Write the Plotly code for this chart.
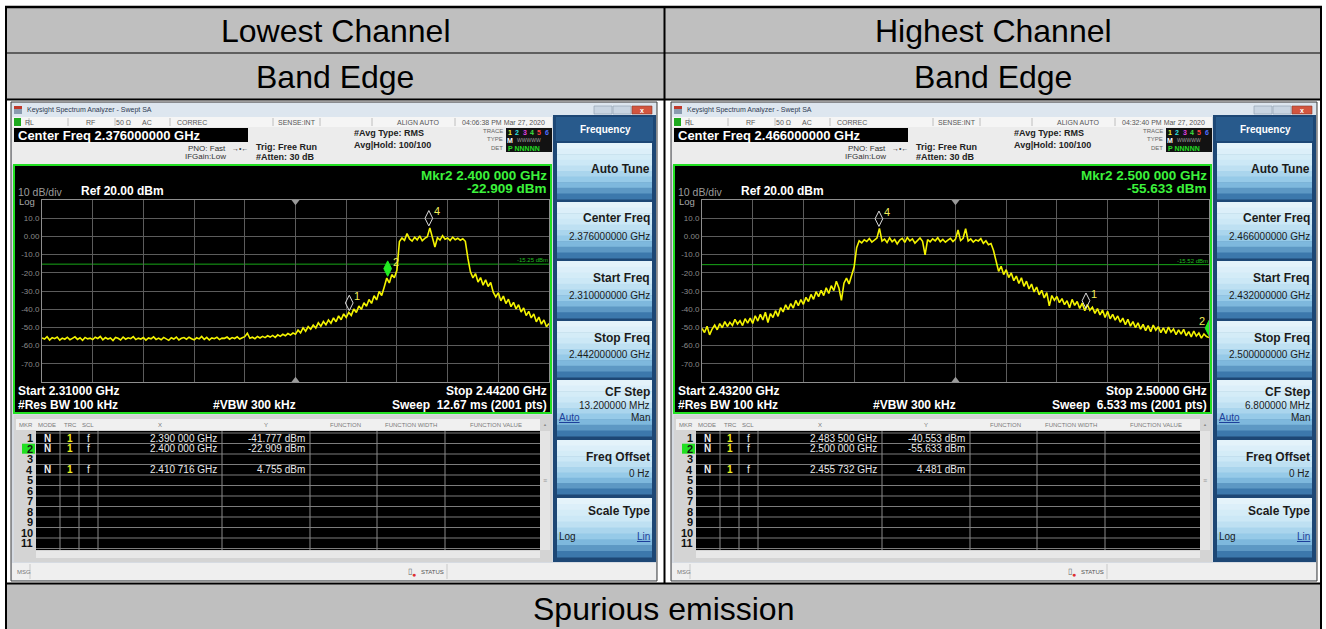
import numpy as np
import plotly.graph_objects as go

W, H = 1326, 629
FONT = "Arial, 'Liberation Sans', sans-serif"

# ---------------- sweep settings ----------------
low_start, low_stop, low_center = 2.310, 2.442, 2.376      # GHz
high_start, high_stop, high_center = 2.432, 2.500, 2.466   # GHz
ref_level_dbm = 20.0
db_per_div = 10.0
sweep_points = 2001

# ---------------- trace 1 (dBm), evenly spaced over each sweep ----------------
low_trace_dbm = [
    -55.8, -56.4, -55.1, -56.9, -55.6, -56.2, -55.3, -57.0, -55.9, -56.5, -55.4, -56.8, -56.0, -55.2, -56.6, -55.7, -57.1, -55.5, -56.3, -55.9,
    -56.7, -55.4, -56.1, -55.0, -56.8, -55.6, -56.4, -55.8, -57.2, -55.5, -56.0, -56.9, -55.3, -56.5, -55.7, -56.2, -55.1, -56.7, -55.9, -56.4,
    -55.6, -57.0, -55.8, -56.3, -55.2, -56.6, -55.9, -56.8, -55.5, -56.1, -57.1, -55.7, -56.4, -55.3, -56.9, -56.0, -55.6, -56.5, -55.4, -56.2,
    -56.8, -55.7, -56.3, -55.0, -56.6, -55.5, -56.9, -55.8, -56.2, -55.4, -56.7, -55.9, -56.0, -55.3, -56.5, -55.6, -56.1, -55.2, -56.4, -55.7,
    -55.1, -53.2, -56.0, -55.4, -56.2, -55.0, -55.8, -54.9, -55.6, -54.6, -55.3, -54.4, -55.5, -54.1, -54.9, -53.8, -54.6, -53.4, -54.2, -53.1,
    -53.8, -51.5, -53.0, -50.2, -52.1, -49.6, -51.0, -48.7, -50.3, -47.5, -49.4, -46.8, -48.6, -45.9, -47.7, -44.8, -46.9, -43.7, -45.8, -42.6,
    -44.5, -41.8, -43.4, -39.9, -41.8, -38.2, -40.1, -36.5, -38.4, -34.7, -36.8, -32.6, -34.9, -30.3, -32.5, -27.8, -22.9, -25.6, -21.0, -22.7,
    -18.6, -2.8, -0.9, -2.2, 1.6, -1.4, -2.6, -0.5, -1.9, 0.3, -2.4, -1.1, -0.2, 4.7, -1.3, -5.8, -0.7, -2.0, 0.4, -1.6,
    -0.9, -2.3, -0.4, -1.8, -1.0, -2.1, -1.3, -2.7, -12.0, -19.5, -22.8, -20.4, -25.1, -22.6, -26.8, -23.9, -27.5, -25.3, -30.6, -33.2,
    -31.0, -35.4, -32.8, -36.9, -34.5, -38.6, -36.2, -39.8, -37.5, -41.6, -39.3, -43.5, -41.2, -44.8, -42.6, -46.9, -44.3, -48.2, -45.9, -49.6,
    -47.8,
]
high_trace_dbm = [
    -50.6, -52.8, -49.4, -54.1, -50.9, -48.7, -51.3, -47.9, -50.2, -46.8, -49.5, -47.2, -48.9, -45.6, -48.1, -46.3, -49.0, -45.2, -47.6, -44.9,
    -47.8, -43.6, -46.5, -42.8, -45.9, -41.7, -47.3, -42.4, -44.6, -40.8, -43.9, -39.2, -41.5, -37.6, -40.3, -36.9, -39.4, -35.2, -38.1, -34.7,
    -37.3, -33.5, -35.8, -31.9, -34.6, -30.4, -33.1, -29.6, -32.5, -28.2, -31.4, -27.1, -29.8, -24.6, -28.3, -35.2, -25.7, -22.9, -26.1, -21.4,
    -16.8, -6.2, -2.4, -3.6, -1.9, -2.8, -1.2, -3.1, -2.2, -0.9, 4.4, -2.6, -1.5, -3.4, -0.8, -2.9, -1.7, -4.1, -2.0, -1.1,
    -3.3, -0.6, -2.5, -1.4, -3.7, -2.1, -0.9, -2.7, -10.2, -1.8, -3.0, -1.3, -2.4, -0.7, -2.9, -1.6, -3.2, -2.0, -1.1, -2.8,
    -1.5, 3.6, -2.3, -1.0, 4.2, -2.6, -1.4, -3.1, -1.9, -2.5, -1.2, -3.8, -2.4, -4.6, -3.9, -7.8, -14.5, -19.2, -16.4, -21.0,
    -18.3, -22.6, -20.1, -24.3, -21.8, -25.9, -22.7, -27.4, -24.6, -28.9, -26.2, -30.5, -27.8, -32.1, -29.6, -33.8, -30.9, -38.2, -32.5, -35.1,
    -33.0, -36.4, -34.2, -37.5, -35.3, -39.2, -34.6, -37.9, -35.8, -39.6, -36.7, -40.8, -37.4, -40.6, -38.9, -42.3, -39.7, -43.1, -40.5, -44.6,
    -41.2, -45.3, -42.8, -46.0, -43.7, -47.2, -44.9, -48.5, -45.6, -49.3, -46.8, -50.1, -47.5, -51.0, -48.3, -51.8, -49.0, -52.4, -48.7, -51.5,
    -49.6, -52.9, -50.2, -53.3, -49.8, -52.6, -50.9, -54.0, -51.4, -53.7, -51.1, -54.6, -52.3, -55.2, -52.0, -54.8, -53.1, -55.9, -53.6, -55.0,
    -55.6,
]

# ---------------- markers ----------------
low_mkr_id = [1, 2, 4]
low_mkr_ghz = [2.390000, 2.400000, 2.410716]
low_mkr_dbm = [-41.777, -22.909, 4.755]
high_mkr_id = [1, 2, 4]
high_mkr_ghz = [2.483500, 2.500000, 2.455732]
high_mkr_dbm = [-40.553, -55.633, 4.481]
active_marker = 2

low_display_line = -15.25
high_display_line = -15.52
low_timestamp = "04:06:38 PM Mar 27, 2020"
high_timestamp = "04:32:40 PM Mar 27, 2020"
low_sweep_ms = "12.67"
high_sweep_ms = "6.533"

column_titles = ["Lowest Channel", "Highest Channel"]
row_title = "Band Edge"
footer_title = "Spurious emission"

# ---------------- helpers (pixel -> paper) ----------------
shapes, annos = [], []


def X(px):
    return px / W


def Y(py):
    return 1 - py / H


def rect(x0, y0, x1, y1, fill, line=None, lw=0):
    shapes.append(dict(type="rect", xref="paper", yref="paper",
                       x0=X(x0), x1=X(x1), y0=Y(y1), y1=Y(y0),
                       fillcolor=fill, line=dict(color=line or fill, width=lw),
                       layer="below"))


def seg(x0, y0, x1, y1, color, lw=1):
    shapes.append(dict(type="line", xref="paper", yref="paper",
                       x0=X(x0), x1=X(x1), y0=Y(y0), y1=Y(y1),
                       line=dict(color=color, width=lw), layer="below"))


def label(x, y, s, size, color, bold=False, anchor="left", underline=False):
    if bold:
        s = f"<b>{s}</b>"
    if underline:
        s = f"<u>{s}</u>"
    annos.append(dict(xref="paper", yref="paper", x=X(x), y=Y(y), text=s,
                      showarrow=False, xanchor=anchor, yanchor="middle",
                      borderpad=0, font=dict(family=FONT, size=size, color=color)))


KEY_STOPS = [(0.0, (232, 245, 251)), (0.4, (200, 230, 245)),
             (0.72, (136, 194, 228)), (1.0, (44, 104, 160))]


def key_color(t):
    for (t0, c0), (t1, c1) in zip(KEY_STOPS, KEY_STOPS[1:]):
        if t <= t1:
            u = (t - t0) / (t1 - t0)
            return "rgb(%d,%d,%d)" % tuple(round(a + (b - a) * u) for a, b in zip(c0, c1))
    return "rgb(%d,%d,%d)" % KEY_STOPS[-1][1]


def key_face(x0, y0, x1, y1, bands=10):
    h = (y1 - y0) / bands
    for k in range(bands):
        rect(x0, y0 + k * h, x1, y0 + (k + 1) * h + 0.6, key_color((k + 0.5) / bands))


def ghz_text(g):
    s = f"{g:.6f}"
    return f"{s[:5]} {s[5:]} GHz"


# ---------------- document table ----------------
rect(6, 7, 1321, 99, "#bfbfbf")
rect(6, 584, 1321, 629, "#bfbfbf")
seg(5, 7, 1322, 7, "#000", 2.5)
seg(6, 53, 1321, 53, "#000", 1.2)
seg(6, 99.5, 1321, 99.5, "#000", 2)
seg(6, 583.5, 1321, 583.5, "#000", 2)
seg(6, 6, 6, 629, "#000", 2)
seg(1321, 6, 1321, 629, "#000", 2)
seg(664.5, 7, 664.5, 583.5, "#000", 2)
label(335, 31, column_titles[0], 32, "#000", anchor="center")
label(993, 31, column_titles[1], 32, "#000", anchor="center")
label(335, 77, row_title, 32, "#000", anchor="center")
label(993, 77, row_title, 32, "#000", anchor="center")
label(663, 609, footer_title, 32, "#000", anchor="center")


# ---------------- analyzer window chrome ----------------
def analyzer(ox, center, start, stop, timestamp, sweep_ms, mk_id, mk_ghz, mk_dbm):
    def R(x0, y0, x1, y1, fill, **k):
        rect(x0 + ox, y0, x1 + ox, y1, fill, **k)

    def S(x0, y0, x1, y1, color, lw=1):
        seg(x0 + ox, y0, x1 + ox, y1, color, lw)

    def T(x, y, s, size, color, **k):
        label(x + ox, y, s, size, color, **k)

    # frame and title bar
    R(11, 102, 657, 581, "#d6dbe2", line="#3c3c3c", lw=1)
    R(12, 103, 656, 117, "#dde6ef")
    R(14, 106, 22, 109, "#c0392b")
    R(14, 109, 22, 114, "#8a9bb0")
    T(26, 110.5, "Keysight Spectrum Analyzer - Swept SA", 7, "#2e3a52")
    R(594, 106, 612, 114, "#c9d5e2", line="#8c9aab", lw=0.6)
    R(613, 106, 631, 114, "#c9d5e2", line="#8c9aab", lw=0.6)
    R(632, 106, 652, 114, "#d2553f", line="#8c3a2a", lw=0.6)
    T(642, 110, "x", 7, "#ffffff", anchor="center", bold=True)

    # status row
    R(12, 117, 552, 127, "#f5f5f5")
    R(14, 118, 21, 126, "#1faa1f")
    for sx in [29, 68, 115, 170, 273, 320, 372, 455]:
        S(sx, 118, sx, 126, "#b0b0b0", 0.8)
    T(24, 122.5, "RL", 7, "#555")
    for s, cx in [("RF", 90), ("50 Ω", 123), ("AC", 147), ("CORREC", 192),
                  ("SENSE:INT", 297), ("ALIGN AUTO", 418), (timestamp, 503)]:
        T(cx, 122.5, s, 7, "#555", anchor="center")

    # settings area
    R(12, 127, 552, 165, "#ececec")
    R(14, 128, 248, 142, "#000")
    T(17, 135, f"Center Freq {center:.9f} GHz", 13, "#ffffff", bold=True)
    T(227, 148, "PNO: Fast", 8, "#333", anchor="right")
    T(240, 148, "→•←", 7, "#333", anchor="center")
    T(227, 157, "IFGain:Low", 8, "#333", anchor="right")
    T(255, 147, "Trig: Free Run", 9, "#222", bold=True)
    T(255, 157, "#Atten: 30 dB", 9, "#222", bold=True)
    T(353, 133, "#Avg Type: RMS", 9, "#222", bold=True)
    T(353, 144.5, "Avg|Hold: 100/100", 9, "#222", bold=True)
    T(504, 131.5, "TRACE", 6, "#666", anchor="right")
    T(504, 139.5, "TYPE", 6, "#666", anchor="right")
    T(504, 148, "DET", 6, "#666", anchor="right")
    R(506, 128, 552, 152, "#121212")
    for k, col in enumerate(["#f0f030", "#30e0e0", "#e040e0", "#40e040", "#ff4040", "#5070ff"]):
        T(510 + k * 7.3, 132, str(k + 1), 7, col, anchor="center", bold=True)
    T(510, 140, "M", 7, "#ffffff", anchor="center", bold=True)
    T(516, 140, "WWWWW", 5, "#a0a0a0")
    T(507, 148, "P NNNNN", 7, "#22dd22", bold=True)

    # measurement display
    R(14, 165, 551, 413, "#000000", line="#22e022", lw=2)
    i_act = mk_id.index(active_marker)
    T(548, 175, f"Mkr{active_marker} {ghz_text(mk_ghz[i_act])}", 13.5, "#3cf23c", bold=True, anchor="right")
    T(548, 188.5, f"{mk_dbm[i_act]:.3f} dBm", 13.5, "#3cf23c", bold=True, anchor="right")
    T(17, 192, f"{db_per_div:.0f} dB/div", 10.5, "#9c9c9c")
    T(80, 191.5, f"Ref {ref_level_dbm:.2f} dBm", 12, "#ffffff", bold=True)
    T(18, 201.5, "Log", 9.5, "#a8a8a8")
    T(17, 391, f"Start {start:.5f} GHz", 12, "#ffffff", bold=True)
    T(548, 391, f"Stop {stop:.5f} GHz", 12, "#ffffff", bold=True, anchor="right")
    T(17, 405, "#Res BW 100 kHz", 12, "#ffffff", bold=True)
    T(212, 405, "#VBW 300 kHz", 12, "#ffffff", bold=True)
    T(548, 405, f"Sweep  {sweep_ms} ms ({sweep_points} pts)", 12, "#ffffff", bold=True, anchor="right")

    # marker table
    R(14, 415, 552, 562, "#d4d4d4")
    R(16, 419, 540, 430, "#f0f0f0")
    for s, cx in [("MKR", 26), ("MODE", 47), ("TRC", 70), ("SCL", 88), ("X", 160), ("Y", 266),
                  ("FUNCTION", 345), ("FUNCTION WIDTH", 411), ("FUNCTION VALUE", 496)]:
        T(cx, 424.5, s, 6, "#7a7a7a", anchor="center")
    T(545, 424.5, "▲", 4, "#888", anchor="center")
    R(36, 431, 540, 550, "#000000")
    R(540, 431, 550, 550, "#e4e4e4")
    T(545, 480, "≡", 7, "#999", anchor="center")
    R(36, 551, 540, 558, "#e8e8e8")
    for k in range(12):
        S(36, 433 + 10.5 * k, 540, 433 + 10.5 * k, "#7c7c7c", 1)
    for cx in [60, 79, 98, 222, 310, 377, 445]:
        S(cx, 431, cx, 550, "#8a8a8a", 1)
    for k in range(11):
        yc = 438.2 + 10.5 * k
        if k + 1 == active_marker:
            R(22, yc - 5, 35, yc + 5, "#22e022")
        T(34, yc, str(k + 1), 11, "#111", bold=True, anchor="right")
    for mid, g, d in zip(mk_id, mk_ghz, mk_dbm):
        yc = 438.2 + 10.5 * (mid - 1)
        T(47, yc, "N", 10, "#f0f0f0", bold=True, anchor="center")
        T(70, yc, "1", 10, "#f0f020", bold=True, anchor="center")
        T(88, yc, "f", 10, "#f0f0f0", anchor="center")
        T(218, yc, ghz_text(g), 10, "#e8e8e8", anchor="right")
        T(306, yc, f"{d:.3f} dBm", 10, "#e8e8e8", anchor="right")

    # message bar
    R(12, 563, 656, 580, "#efefef")
    S(30, 564, 30, 579, "#c0c0c0", 0.8)
    T(16, 572, "MSG", 6, "#777")
    T(410, 571, "▯", 8, "#666", anchor="center")
    T(414, 574, "●", 7, "#e03030", anchor="center")
    T(420, 572, "STATUS", 6, "#555")
    S(447, 564, 447, 579, "#c0c0c0", 0.8)

    # softkey panel
    R(553, 115, 656, 562, "#1d4775")
    R(556, 117, 653, 141, "#285a8c")
    T(605, 129.5, "Frequency", 10, "#ffffff", anchor="center", bold=True)
    for y0, y1 in [(143, 199), (202, 258), (261, 318), (321, 377), (380, 436), (440, 494), (498, 557)]:
        key_face(557 + ox, y0, 652 + ox, y1)
    kc = "#1b1b1b"
    T(651, 169, "Auto Tune", 12, kc, bold=True, anchor="right")
    T(651, 218, "Center Freq", 12, kc, bold=True, anchor="right")
    T(651, 236, f"{center:.9f} GHz", 10, kc, anchor="right")
    T(651, 278, "Start Freq", 12, kc, bold=True, anchor="right")
    T(651, 295, f"{start:.9f} GHz", 10, kc, anchor="right")
    T(651, 338, "Stop Freq", 12, kc, bold=True, anchor="right")
    T(651, 354, f"{stop:.9f} GHz", 10, kc, anchor="right")
    T(651, 392, "CF Step", 12, kc, bold=True, anchor="right")
    T(651, 405, f"{(stop - start) * 1000 / 10:.6f} MHz", 10, kc, anchor="right")
    T(558, 417.5, "Auto", 10, "#1d3f9a", underline=True)
    T(651, 417.5, "Man", 10, kc, anchor="right")
    T(651, 457, "Freq Offset", 12, kc, bold=True, anchor="right")
    T(651, 473, "0 Hz", 10, kc, anchor="right")
    T(651, 511, "Scale Type", 12, kc, bold=True, anchor="right")
    T(558, 536, "Log", 10, kc)
    T(651, 536, "Lin", 10, "#1d3f9a", anchor="right", underline=True)


analyzer(0, low_center, low_start, low_stop, low_timestamp, low_sweep_ms,
         low_mkr_id, low_mkr_ghz, low_mkr_dbm)
analyzer(660, high_center, high_start, high_stop, high_timestamp, high_sweep_ms,
         high_mkr_id, high_mkr_ghz, high_mkr_dbm)

# ---------------- spectrum plots ----------------
fig = go.Figure()
PX_TOP, PX_BOT = 200, 382
DB_PER_PX = (db_per_div * 10) / (PX_BOT - PX_TOP)

panels = [
    ("x", "y", low_start, low_stop, low_center, low_trace_dbm, low_mkr_id, low_mkr_ghz, low_mkr_dbm, low_display_line),
    ("x2", "y2", high_start, high_stop, high_center, high_trace_dbm, high_mkr_id, high_mkr_ghz, high_mkr_dbm, high_display_line),
]
for xa, ya, f0, f1, fc, trace, mid, mg, md, dl in panels:
    freq = np.linspace(f0, f1, len(trace))
    # display line
    shapes.append(dict(type="line", xref=f"{xa} domain", yref=ya, x0=0, x1=1, y0=dl, y1=dl,
                       line=dict(color="#18a818", width=1), layer="below"))
    annos.append(dict(xref=f"{xa} domain", yref=ya, x=1, y=dl, xanchor="right", yanchor="bottom",
                      text=f"{dl:.2f} dBm", showarrow=False, borderpad=0,
                      font=dict(family=FONT, size=6, color="#22bb22")))
    fig.add_trace(go.Scatter(x=freq, y=trace, mode="lines", xaxis=xa, yaxis=ya,
                             line=dict(color="#f4f400", width=1.6), hoverinfo="skip"))
    # center-frequency indicators
    fig.add_trace(go.Scatter(x=[fc, fc], y=[ref_level_dbm - 1, ref_level_dbm - 99], mode="markers",
                             xaxis=xa, yaxis=ya, cliponaxis=False, hoverinfo="skip",
                             marker=dict(symbol=["triangle-down", "triangle-up"], size=7, color="#9a9a9a")))
    # marker diamonds sit just above the marker point
    lift = 9.5 * DB_PER_PX
    for i, g, d in zip(mid, mg, md):
        act = i == active_marker
        fig.add_trace(go.Scatter(
            x=[g], y=[d + lift], mode="markers", xaxis=xa, yaxis=ya, hoverinfo="skip",
            marker=dict(symbol="diamond-tall" if act else "diamond-tall-open", size=11,
                        color="#22ee22" if act else "#dcdcdc",
                        line=dict(width=1, color="#22ee22" if act else "#dcdcdc"))))
        at_edge = g >= f1 - 1e-9
        annos.append(dict(xref=xa, yref=ya, x=g, y=d + lift, text=str(i), showarrow=False,
                          xshift=-7 if at_edge else 8, yshift=7, borderpad=0,
                          font=dict(family=FONT, size=11, color="#f0ec5a")))

xcommon = dict(showgrid=True, gridcolor="#5c5c5c", gridwidth=1, zeroline=False,
               showline=True, linecolor="#8e8e8e", linewidth=1, mirror=True,
               ticks="", showticklabels=False, fixedrange=True)
ytick_vals = [ref_level_dbm - db_per_div * k for k in range(1, 10)]
ytick_text = ["0.00" if v == 0 else f"{v:.1f}" for v in ytick_vals]
ycommon = dict(showgrid=True, gridcolor="#5c5c5c", gridwidth=1, zeroline=False,
               showline=True, linecolor="#8e8e8e", linewidth=1, mirror=True,
               ticks="", range=[ref_level_dbm - 10 * db_per_div, ref_level_dbm],
               tickvals=ytick_vals, ticktext=ytick_text, fixedrange=True,
               tickfont=dict(family=FONT, size=8, color="#8a8a8a"))

fig.update_layout(
    width=W, height=H, autosize=False,
    margin=dict(l=0, r=0, t=0, b=0, pad=0),
    paper_bgcolor="#ffffff", plot_bgcolor="rgba(0,0,0,0)",
    showlegend=False,
    xaxis=dict(domain=[X(42), X(549)], range=[low_start, low_stop], anchor="y",
               tick0=low_start, dtick=(low_stop - low_start) / 10, **xcommon),
    yaxis=dict(domain=[Y(PX_BOT), Y(PX_TOP)], anchor="x", **ycommon),
    xaxis2=dict(domain=[X(702), X(1209)], range=[high_start, high_stop], anchor="y2",
                tick0=high_start, dtick=(high_stop - high_start) / 10, **xcommon),
    yaxis2=dict(domain=[Y(PX_BOT), Y(PX_TOP)], anchor="x2", **ycommon),
    shapes=shapes,
    annotations=annos,
)

fig.write_html("out.html", config={"displayModeBar": False})
